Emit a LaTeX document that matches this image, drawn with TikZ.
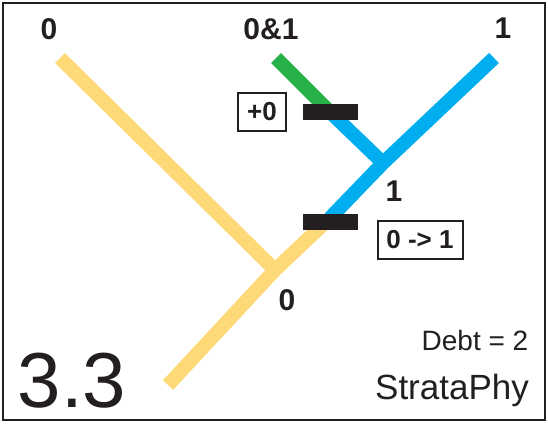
\documentclass[tikz,border=0pt]{standalone}
\usepackage{fontspec}
\setmainfont{Liberation Sans}
\definecolor{stratayellow}{RGB}{254,217,120}
\definecolor{stratablue}{RGB}{0,174,239}
\definecolor{stratagreen}{RGB}{40,176,74}
\definecolor{frameink}{RGB}{35,31,32}
\usetikzlibrary{positioning}

\tikzset{
  branch/.style={line width=14pt, line cap=butt},
  bar/.style={fill=frameink, minimum width=55pt, minimum height=16pt, inner sep=0pt},
  tiplabel/.style={font=\fontsize{30}{30}\selectfont\bfseries, text=frameink},
  eventbox/.style={draw=frameink, line width=2pt, font=\fontsize{26}{26}\selectfont\bfseries,
    text=frameink, inner sep=0pt, minimum height=38pt}
}

\begin{document}
\begin{tikzpicture}[x=1pt, y=-1pt]
  \useasboundingbox (0,0) rectangle (548,423);
  % Frame
  \draw[frameink, line width=2pt] (3,3) rectangle (545,420);
  % Tips, junctions and root
  \coordinate (leafA) at (60,58);
  \coordinate (leafAB) at (276,58);
  \coordinate (leafB) at (494,58);
  \coordinate (juncA) at (275,270);
  \coordinate (juncB) at (383,163);
  \coordinate (root) at (168,385);
  % Branches
  \draw[branch, stratayellow] (leafA) -- (juncA);
  \draw[branch, stratayellow] (root) -- (juncA) -- (330,218) coordinate (cutB);
  \draw[branch, stratablue] (cutB) -- (juncB) -- (leafB);
  \draw[branch, stratagreen] (leafAB) -- (330,112) coordinate (cutA);
  \draw[branch, stratablue] (cutA) -- (juncB);
  % Events on branches
  \node[bar] (barA) at (330,112) {};
  \node[bar] (barB) at (330,222) {};
  \node[eventbox, minimum width=48pt] (gainA) at (262,112) {+0};
  \node[eventbox, minimum width=85pt] (gainB) at (420,240) {0 -> 1};
  % Tip labels
  \node[tiplabel] (lblA) at (49,29) {0};
  \node[tiplabel] (lblAB) at (271,29) {0\&1};
  \node[tiplabel] (lblB) at (503,28) {1};
  % Junction labels
  \node[tiplabel] (lblJB) at (394,191) {1};
  \node[tiplabel] (lblJA) at (287,300) {0};
  % Footer
  \node[font=\fontsize{28}{28}\selectfont, text=frameink] (debt) at (475,340) {Debt = 2};
  \node[font=\fontsize{35}{35}\selectfont, text=frameink] (brand) at (452,390) {StrataPhy};
  \node[font=\fontsize{78}{78}\selectfont, text=frameink] (fig) at (72,381) {3.3};
\end{tikzpicture}
\end{document}
